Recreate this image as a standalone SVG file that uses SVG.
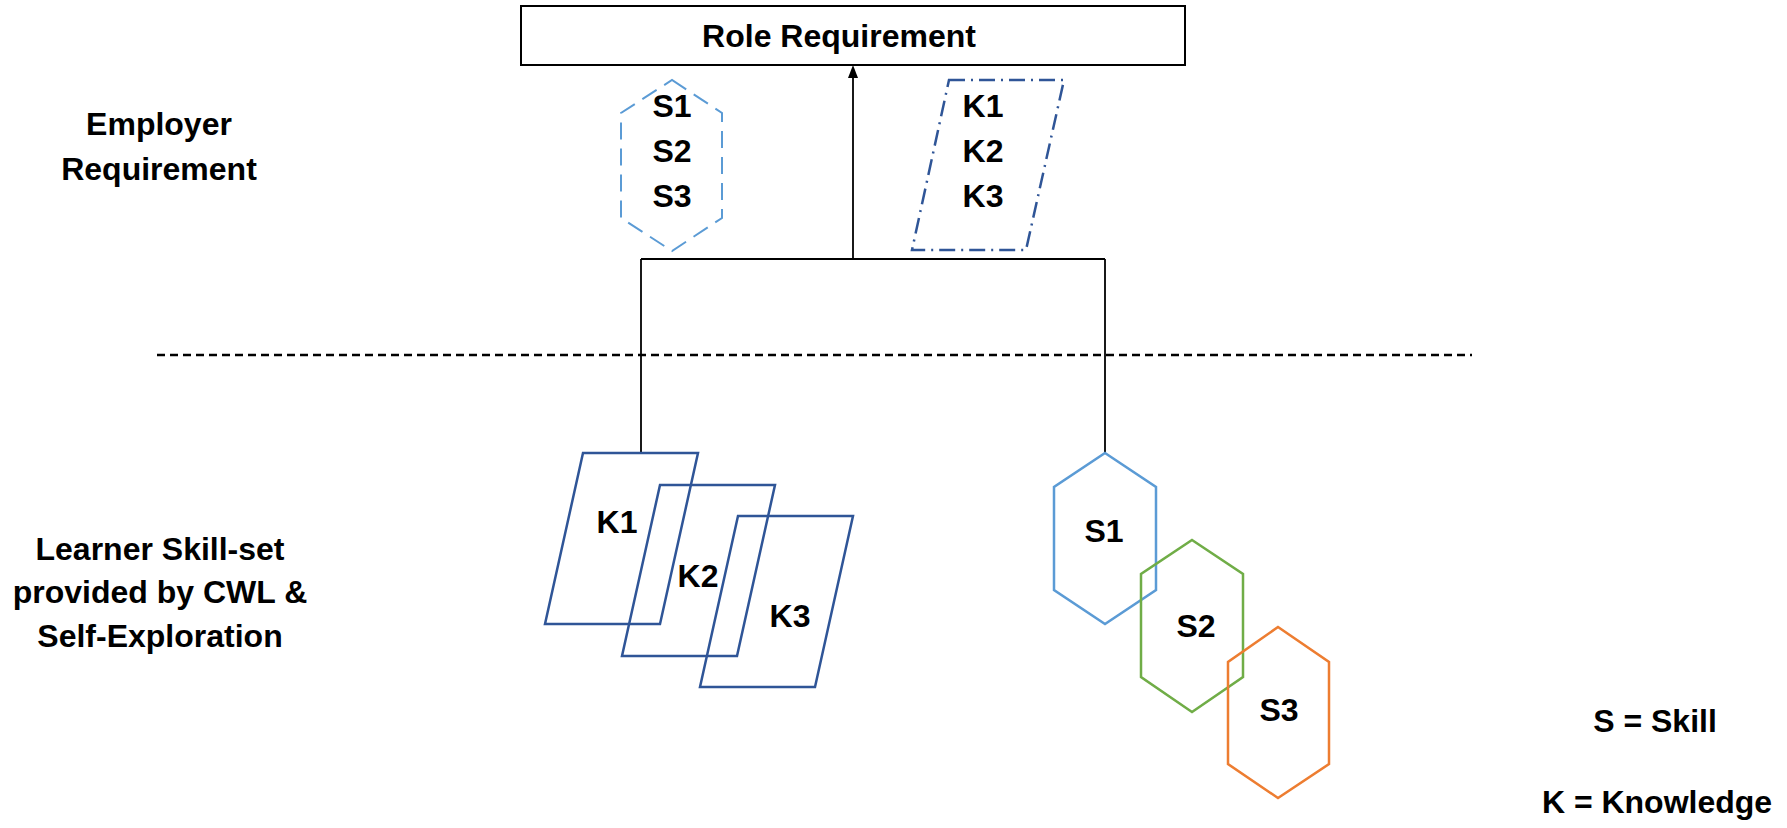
<svg xmlns="http://www.w3.org/2000/svg" width="1787" height="828" viewBox="0 0 1787 828">
<defs>
<style>
text{font-family:"Liberation Sans",Arial,sans-serif;font-weight:bold;font-size:32px;fill:#000;text-anchor:middle}
.conn{stroke:#000;stroke-width:1.8;fill:none}
.kp{fill:none;stroke:#2F5597;stroke-width:2.5}
</style>
</defs>
<rect width="1787" height="828" fill="#fff"/>

<g id="labels">
<text x="159" y="135">Employer</text>
<text x="159" y="180">Requirement</text>
<text x="160" y="560">Learner Skill-set</text>
<text x="160" y="603">provided by CWL &amp;</text>
<text x="160" y="647">Self-Exploration</text>
<text x="1655" y="732">S = Skill</text>
<text x="1657" y="813">K = Knowledge</text>
</g>

<line x1="157" y1="355" x2="1472" y2="355" stroke="#000" stroke-width="2.5" stroke-dasharray="8 5"/>

<g id="connectors">
<line class="conn" x1="641" y1="259" x2="1105" y2="259"/>
<line class="conn" x1="641" y1="259" x2="641" y2="453"/>
<line class="conn" x1="1105" y1="259" x2="1105" y2="453"/>
<line class="conn" x1="853" y1="259" x2="853" y2="78"/>
<path d="M853,65 L858,78 L848,78 Z" fill="#000"/>
</g>

<g id="role-requirement">
<rect x="521" y="6" width="664" height="59" fill="#fff" stroke="#000" stroke-width="2"/>
<text x="839" y="47">Role Requirement</text>
</g>

<g id="req-skills">
<polygon points="672,80 722,113 722,218 672,251 621,218 621,113" fill="none" stroke="#5B9BD5" stroke-width="2" stroke-dasharray="17 9"/>
<text x="672" y="117">S1</text>
<text x="672" y="162">S2</text>
<text x="672" y="207">S3</text>
</g>

<g id="req-knowledge">
<polygon points="949,80 1064,80 1026,250 912,250" fill="none" stroke="#2F5597" stroke-width="2.5" stroke-dasharray="16 6 2 6"/>
<text x="983" y="117">K1</text>
<text x="983" y="162">K2</text>
<text x="983" y="207">K3</text>
</g>

<g id="k1">
<polygon class="kp" points="583,453 698,453 660,624 545,624"/>
<text x="617" y="533">K1</text>
</g>
<g id="k2">
<polygon class="kp" points="660,485 775,485 737,656 622,656"/>
<text x="698" y="587">K2</text>
</g>
<g id="k3">
<polygon class="kp" points="738,516 853,516 815,687 700,687"/>
<text x="790" y="627">K3</text>
</g>

<g id="s1">
<polygon points="1105,453 1156,487 1156,590 1105,624 1054,590 1054,487" fill="none" stroke="#5B9BD5" stroke-width="2.5"/>
<text x="1104" y="542">S1</text>
</g>
<g id="s2">
<polygon points="1192,540 1243,574 1243,677 1192,712 1141,677 1141,574" fill="none" stroke="#70AD47" stroke-width="2.5"/>
<text x="1196" y="637">S2</text>
</g>
<g id="s3">
<polygon points="1278,627 1329,662 1329,764 1278,798 1228,764 1228,662" fill="none" stroke="#ED7D31" stroke-width="2.5"/>
<text x="1279" y="721">S3</text>
</g>
</svg>
